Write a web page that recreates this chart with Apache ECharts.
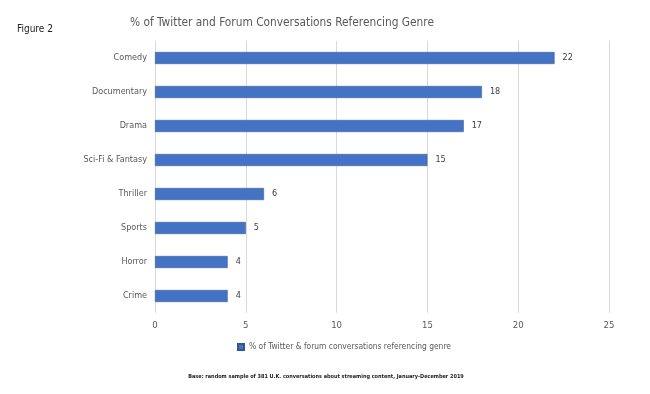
<!DOCTYPE html>
<html><head><meta charset="utf-8">
<script src="https://cdn.jsdelivr.net/npm/echarts@6/dist/echarts.min.js"></script>
<style>html,body{margin:0;padding:0;background:#fff}#c{width:650px;height:394px}</style>
</head><body><div id="c"></div>
<script>
var categories = ["Comedy","Documentary","Drama","Sci-Fi & Fantasy","Thriller","Sports","Horror","Crime"];
var values = [22,18,17,15,6,5,4,4];
var seriesName = "% of Twitter & forum conversations referencing genre";
var titleText = "% of Twitter and Forum Conversations Referencing Genre";
var figureLabel = "Figure 2";
var footnote = "Base: random sample of 381 U.K. conversations about streaming content, January-December 2019";

var FONT = "'DejaVu Sans Condensed', 'Liberation Sans', sans-serif";
var chart = echarts.init(document.getElementById('c'));
chart.setOption({
  animation: false,
  textStyle: {fontFamily: FONT, color: '#595959'},
  title: [
    {text: titleText, left: 277, top: 12, textAlign: 'center',
     textStyle: {fontFamily: FONT, fontSize: 11.8, fontWeight: 'normal', color: '#595959'}},
    {text: figureLabel, left: 12, top: 19,
     textStyle: {fontFamily: FONT, fontSize: 10, fontWeight: 'normal', color: '#222'}},
    {text: footnote, left: 321, top: 369, textAlign: 'center',
     textStyle: {fontFamily: FONT, fontSize: 5.5, fontWeight: 'bold', color: '#222'}}
  ],
  legend: {
    data: [seriesName], left: 232, top: 338, itemWidth: 6, itemHeight: 6, itemGap: 3,
    icon: 'rect',
    textStyle: {fontFamily: FONT, fontSize: 8.4, color: '#595959'}
  },
  grid: {left: 155, right: 41, top: 41, height: 272, containLabel: false},
  xAxis: {
    type: 'value', min: 0, max: 25, interval: 5,
    axisLine: {show: false}, axisTick: {show: false},
    splitLine: {lineStyle: {color: '#d9d9d9', width: 1}},
    axisLabel: {fontFamily: FONT, fontSize: 9.5, color: '#595959', margin: 8}
  },
  yAxis: {
    type: 'category', data: categories, inverse: true,
    axisLine: {show: false}, axisTick: {show: false},
    axisLabel: {fontFamily: FONT, fontSize: 9, color: '#595959', margin: 8}
  },
  series: [{
    name: seriesName, type: 'bar', data: values, barWidth: 12,
    itemStyle: {color: '#4472C4', borderColor: '#2F5597', borderWidth: 0.5},
    label: {show: true, position: 'right', distance: 8, fontFamily: FONT, fontSize: 9, color: '#404040'}
  }]
});
</script></body></html>
